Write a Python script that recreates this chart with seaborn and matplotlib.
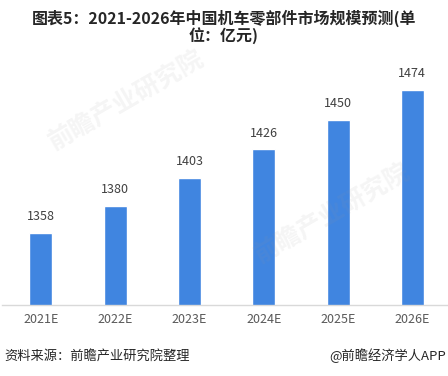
import matplotlib
matplotlib.use("Agg")
import seaborn as sns
import pandas as pd
from matplotlib import pyplot as plt

years = ["2021E", "2022E", "2023E", "2024E", "2025E", "2026E"]
values = [1358, 1380, 1403, 1426, 1450, 1474]

df = pd.DataFrame({"year": years, "value": values})

sns.set_style("white")
plt.rcParams['font.family'] = ['Noto Sans CJK SC', 'DejaVu Sans']

fig = plt.figure(figsize=(4.48, 3.76), dpi=100)
ax = fig.add_axes([0.005, 0.19, 0.995, 0.655])

sns.barplot(data=df, x="year", y="value", color="#4085E0", width=0.31,
            saturation=1, ax=ax)
ax.set_ylim(1300, 1500)
ax.set_xlim(-0.52, 5.48)

for i, v in enumerate(values):
    ax.text(i, v + 8, str(v), ha="center", va="bottom", fontsize=9, color="#404040")

ax.set_xlabel("")
ax.set_ylabel("")
ax.set_yticks([])
ax.tick_params(axis="x", length=0, labelsize=9, labelcolor="#595959", pad=6)
for s in ["top", "right", "left"]:
    ax.spines[s].set_visible(False)
ax.spines["bottom"].set_color("#d9d9d9")
ax.spines["bottom"].set_linewidth(1)

# faint watermarks, drawn over the bars like the original
for x, y in [(0.1, 0.6), (0.56, 0.3)]:
    fig.text(x, y, "前瞻产业研究院", fontsize=18, color="#999999", alpha=0.1,
             rotation=30, fontweight="bold", zorder=10)

fig.text(0.5, 0.975, "图表5：2021-2026年中国机车零部件市场规模预测(单\n位：亿元)",
         ha="center", va="top", fontsize=11.5, fontweight="bold", color="#262626",
         linespacing=1.0)

fig.text(0.01, 0.035, "资料来源：前瞻产业研究院整理", ha="left", va="bottom",
         fontsize=9.5, color="#262626")
fig.text(0.995, 0.035, "@前瞻经济学人APP", ha="right", va="bottom",
         fontsize=9.5, color="#262626")

fig.savefig("out.png", dpi=100)
